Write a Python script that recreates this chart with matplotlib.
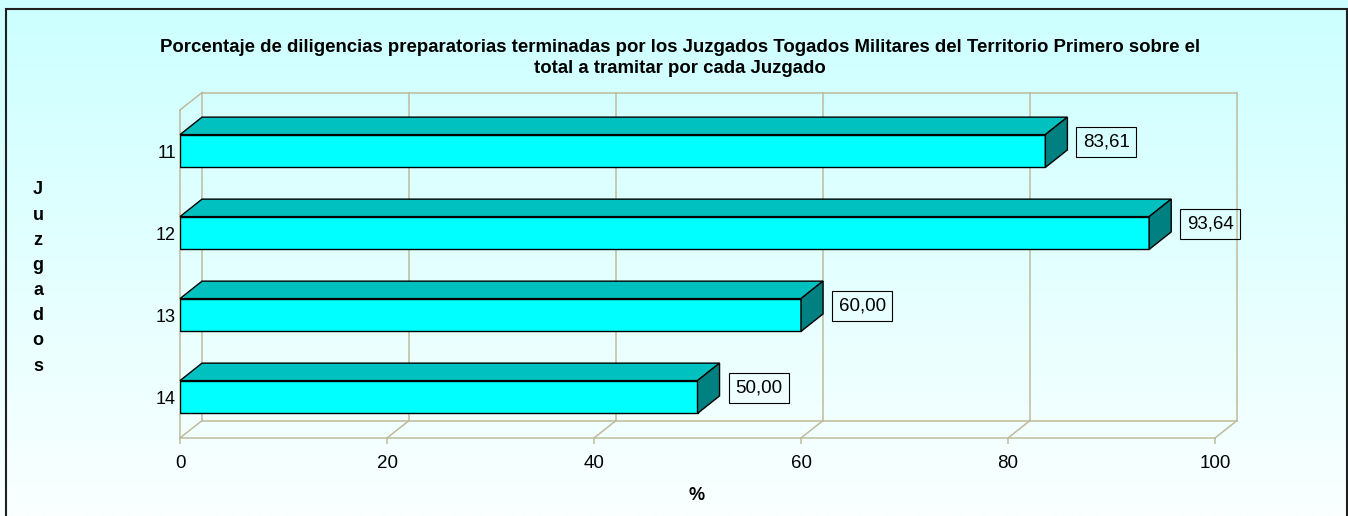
import matplotlib.pyplot as plt
import numpy as np
from matplotlib.patches import Polygon, Rectangle

plt.rcParams['font.family'] = ['Liberation Sans', 'DejaVu Sans']

# Datos
juzgados = ['11', '12', '13', '14']
porcentajes = [83.61, 93.64, 60.00, 50.00]
etiquetas = ['83,61', '93,64', '60,00', '50,00']
xticks = [0, 20, 40, 60, 80, 100]

titulo = ('Porcentaje de diligencias preparatorias terminadas por los Juzgados Togados '
          'Militares del Territorio Primero sobre el\ntotal a tramitar por cada Juzgado')

# Colores
frente = '#00FFFF'
arriba = '#00C0C0'
lado = '#008080'
rejilla = '#BFBA9C'

fig = plt.figure(figsize=(13.48, 5.16), dpi=100)

# Fondo degradado
bg = fig.add_axes([0, 0, 1, 1], zorder=-10)
grad = np.linspace(0, 1, 256).reshape(-1, 1)
top_c = np.array([204, 255, 255]) / 255
bot_c = np.array([250, 255, 255]) / 255
img = top_c * (1 - grad[..., None]) + bot_c * grad[..., None]
bg.imshow(img, aspect='auto', extent=[0, 1, 0, 1])
bg.set_xlim(0, 1)
bg.set_ylim(0, 1)
bg.axis('off')
fig.patches.append(Rectangle((5.5 / 1348, -0.05), 1341.5 / 1348, 1.05 - 8.5 / 516,
                             transform=fig.transFigure, fill=False,
                             edgecolor='#202020', linewidth=1.5, zorder=-5))

ax = fig.add_axes([180 / 1348, 1 - 438 / 516, 1035 / 1348, 328 / 516])
ax.patch.set_visible(False)
ax.set_xlim(0, 100)
ax.set_ylim(len(juzgados) - 0.5, -0.5)

# profundidad del efecto 3D en unidades de datos
dx = 2.13
dy = 0.213
y0, y1 = len(juzgados) - 0.5, -0.5

# Pared del fondo y suelo
for t in xticks:
    ax.plot([t + dx, t + dx], [y0 - dy, y1 - dy], color=rejilla, lw=1.1, zorder=1, clip_on=False)
    ax.plot([t, t + dx], [y0, y0 - dy], color=rejilla, lw=1.1, zorder=1, clip_on=False)
ax.plot([dx, 100 + dx], [y1 - dy, y1 - dy], color=rejilla, lw=1.1, zorder=1, clip_on=False)
ax.plot([dx, 100 + dx], [y0 - dy, y0 - dy], color=rejilla, lw=1.1, zorder=1, clip_on=False)
ax.plot([0, dx], [y1, y1 - dy], color=rejilla, lw=1.1, zorder=1, clip_on=False)

# Barras 3D
h = 0.4
ypos = np.arange(len(juzgados))
ax.barh(ypos, porcentajes, height=h, color=frente, edgecolor='black', linewidth=1, zorder=3)
for y, v, lab in zip(ypos, porcentajes, etiquetas):
    top = [(0, y - h / 2), (v, y - h / 2), (v + dx, y - h / 2 - dy), (dx, y - h / 2 - dy)]
    side = [(v, y - h / 2), (v + dx, y - h / 2 - dy), (v + dx, y + h / 2 - dy), (v, y + h / 2)]
    ax.add_patch(Polygon(top, closed=True, facecolor=arriba, edgecolor='black', lw=1, zorder=3, clip_on=False))
    ax.add_patch(Polygon(side, closed=True, facecolor=lado, edgecolor='black', lw=1, zorder=3, clip_on=False))
    ax.text(v + dx + 1.5, y - dy / 2, lab, ha='left', va='center', fontsize=13.5, zorder=4,
            bbox=dict(boxstyle='square,pad=0.35', facecolor='none', edgecolor='black', lw=0.8))

# Ejes
for s in ['top', 'right']:
    ax.spines[s].set_visible(False)
for s in ['left', 'bottom']:
    ax.spines[s].set_color(rejilla)
    ax.spines[s].set_linewidth(1.1)
ax.set_xticks(xticks)
ax.set_xticklabels([str(t) for t in xticks])
ax.set_yticks(ypos)
ax.set_yticklabels(juzgados)
ax.tick_params(axis='x', length=4, width=1.1, color=rejilla, labelsize=13.5, pad=8)
ax.tick_params(axis='y', length=0, labelsize=13, pad=3)

fig.text(680 / 1348, 1 - 58 / 516, titulo, ha='center', va='center', fontsize=13.4,
         fontweight='bold', linespacing=1.28)
fig.text(38 / 1348, 1 - 278 / 516, '\n'.join('Juzgados'), ha='center', va='center',
         fontsize=13, fontweight='bold', linespacing=1.63)
fig.text(697 / 1348, 1 - 495 / 516, '%', ha='center', va='center', fontsize=13, fontweight='bold')

fig.savefig('out.png', dpi=100)
